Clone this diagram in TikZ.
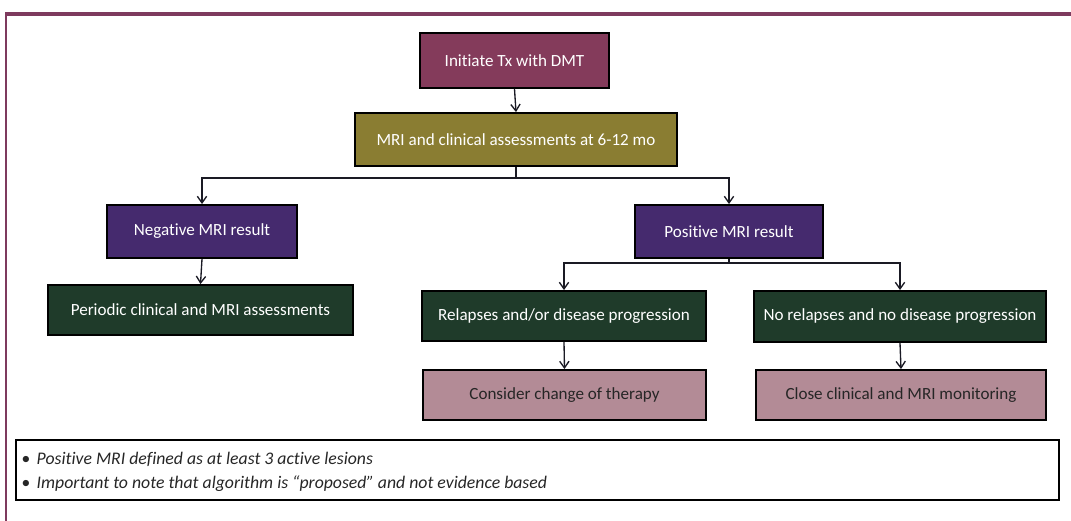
\documentclass[tikz,border=0pt]{standalone}
\usepackage{fontspec}
\setmainfont[Ligatures=NoCommon]{Carlito}
\usetikzlibrary{arrows.meta}
\definecolor{frame}{HTML}{7E3A5E}
\definecolor{cInit}{HTML}{843B5B}
\definecolor{cOlive}{HTML}{8A7D32}
\definecolor{cPurple}{HTML}{452A6E}
\definecolor{cGreen}{HTML}{1F3B2A}
\definecolor{cMauve}{HTML}{B38B96}
\definecolor{cLine}{HTML}{1A1A24}
\tikzset{
  box/.style={draw=black, line width=1.4pt, minimum height=40pt, inner sep=0pt, font=\fontsize{12.8}{15}\selectfont, text=white},
  conn/.style={draw=cLine, line width=1pt, -{Straight Barb[length=5pt,width=7pt]}},
  plain/.style={draw=cLine, line width=1.2pt},
  notetext/.style={anchor=west, font=\fontsize{13.3}{15}\selectfont\itshape, inner sep=0pt, text=black!85},
}
\begin{document}
\begin{tikzpicture}[x=0.75pt,y=-0.75pt]
\useasboundingbox (0,0) rectangle (1071,521);
% frame
\draw[frame, line width=2.6pt] (5,14) -- (1071,14);
\draw[frame, line width=2.2pt] (6,14) -- (6,521);
% nodes
\node[box, fill=cInit, minimum width=141.75pt, minimum height=41.25pt] (init) at (514.5,60.5) {Initiate Tx with DMT};
\node[box, fill=cOlive, minimum width=241.5pt, minimum height=39.75pt] (mri) at (516,139.5) {MRI and clinical assessments at 6-12 mo};
\node[box, fill=cPurple, minimum width=142.5pt, minimum height=39.75pt] (neg) at (202,231.5) {Negative MRI result};
\node[box, fill=cPurple, minimum width=141pt, minimum height=39.75pt] (pos) at (729,231.5) {Positive MRI result};
\node[box, fill=cGreen, minimum width=228.75pt, minimum height=37.5pt] (per) at (200.5,310) {Periodic clinical and MRI assessments};
\node[box, fill=cGreen, minimum width=213pt, minimum height=37.5pt] (rel) at (564,316) {Relapses and/or disease progression};
\node[box, fill=cGreen, minimum width=219pt, minimum height=38.25pt] (norel) at (900,316.5) {No relapses and no disease progression};
\node[box, fill=cMauve, text=black!85, minimum width=212.25pt, minimum height=37.5pt] (chg) at (564.5,395) {Consider change of therapy};
\node[box, fill=cMauve, text=black!85, minimum width=217.5pt, minimum height=37.5pt] (mon) at (901,395) {Close clinical and MRI monitoring};
% connectors
\draw[conn] (init.south) -- (mri.north);
\draw[plain] (mri.south) -- ++(0,11) coordinate (j1);
\draw[conn] (j1) -| (neg.north);
\draw[conn] (j1) -| (pos.north);
\draw[conn] (neg.south) -- (per.north);
\draw[plain] (pos.south) -- ++(0,4) coordinate (j2);
\draw[conn] (j2) -| (rel.north);
\draw[conn] (j2) -| (norel.north);
\draw[conn] (rel.south) -- (chg.north);
\draw[conn] (norel.south) -- (mon.north);
% note box
\node[draw=black, line width=1.2pt, minimum width=782.25pt, minimum height=45pt, inner sep=0pt] (note) at (537.5,470) {};
\node[notetext] (n1) at (21,459) {\textbullet\hspace{5pt}Positive MRI defined as at least 3 active lesions};
\node[notetext] (n2) at (21,484) {\textbullet\hspace{5pt}Important to note that algorithm is “proposed” and not evidence based};
\end{tikzpicture}
\end{document}
